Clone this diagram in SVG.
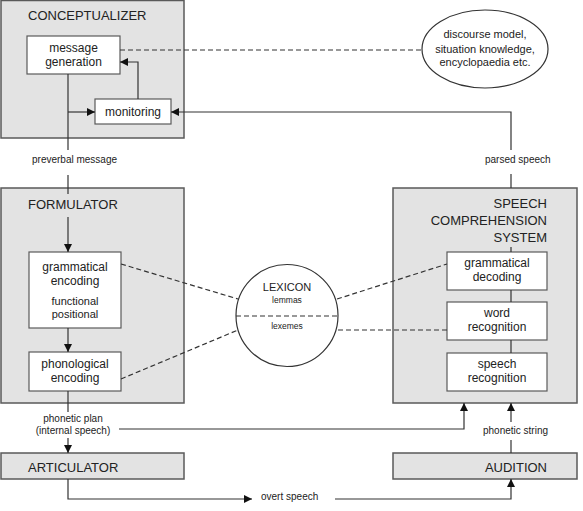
<svg xmlns="http://www.w3.org/2000/svg" width="583" height="511" viewBox="0 0 583 511">
<defs>
<style>
text{font-family:"Liberation Sans",Arial,sans-serif;fill:#222}
.sys{fill:#e3e3e3;stroke:#5a5a5a;stroke-width:1.5}
.box{fill:#fff;stroke:#5a5a5a;stroke-width:1.2}
.title{font-size:13px}
.t{font-size:12px;text-anchor:middle}
.s{font-size:10px}
.sm{font-size:11px;text-anchor:middle}
.ln{fill:none;stroke:#333;stroke-width:1.2}
.ar{fill:none;stroke:#333;stroke-width:1.2;marker-end:url(#ah)}
.ds{fill:none;stroke:#333;stroke-width:1.2;stroke-dasharray:5 3}
</style>
<marker id="ah" viewBox="0 0 10 10" refX="10" refY="5" markerWidth="8" markerHeight="8" markerUnits="userSpaceOnUse" orient="auto">
<path d="M0,0 L10,5 L0,10 z" fill="#111"/>
</marker>
</defs>

<g id="conceptualizer">
<rect class="sys" x="1" y="0.5" width="183" height="137.5"/>
<text class="title" x="28" y="20">CONCEPTUALIZER</text>
</g>
<g id="message-generation">
<rect class="box" x="27" y="36" width="93" height="38"/>
<text class="t" x="73.5" y="52">message</text>
<text class="t" x="73.5" y="66">generation</text>
</g>
<g id="monitoring">
<rect class="box" x="95" y="99" width="76" height="25"/>
<text class="t" x="133" y="116">monitoring</text>
</g>
<g id="knowledge">
<ellipse cx="485" cy="49" rx="63" ry="39" fill="#fff" stroke="#333" stroke-width="1.2"/>
<text class="sm" x="485" y="38">discourse model,</text>
<text class="sm" x="485" y="53">situation knowledge,</text>
<text class="sm" x="485" y="66">encyclopaedia etc.</text>
</g>

<g id="formulator">
<rect class="sys" x="1" y="188" width="183" height="215"/>
<text class="title" x="28" y="209">FORMULATOR</text>
</g>
<g id="grammatical-encoding">
<rect class="box" x="29" y="252" width="92" height="76"/>
<text class="t" x="75" y="271">grammatical</text>
<text class="t" x="75" y="285">encoding</text>
<text class="sm" x="75" y="305">functional</text>
<text class="sm" x="75" y="318">positional</text>
</g>
<g id="phonological-encoding">
<rect class="box" x="29" y="352" width="92" height="39"/>
<text class="t" x="75" y="368">phonological</text>
<text class="t" x="75" y="382">encoding</text>
</g>

<g id="lexicon">
<circle cx="287" cy="315.5" r="51" fill="#fff" stroke="#333" stroke-width="1.2"/>
<text class="sm" x="287" y="291">LEXICON</text>
<text x="287" y="303" style="font-size:8.5px;text-anchor:middle">lemmas</text>
<text x="287" y="329" style="font-size:8.5px;text-anchor:middle">lexemes</text>
<line class="ds" x1="236" y1="316" x2="338" y2="316"/>
</g>

<g id="speech-comprehension">
<rect class="sys" x="393" y="188" width="184" height="215"/>
<text class="title" x="547" y="208" text-anchor="end">SPEECH</text>
<text class="title" x="547" y="225" text-anchor="end">COMPREHENSION</text>
<text class="title" x="547" y="242" text-anchor="end">SYSTEM</text>
</g>
<g id="grammatical-decoding">
<rect class="box" x="447" y="252" width="100" height="38"/>
<text class="t" x="497" y="267">grammatical</text>
<text class="t" x="497" y="281">decoding</text>
</g>
<g id="word-recognition">
<rect class="box" x="447" y="302" width="100" height="38"/>
<text class="t" x="497" y="317">word</text>
<text class="t" x="497" y="331">recognition</text>
</g>
<g id="speech-recognition">
<rect class="box" x="447" y="353" width="100" height="38"/>
<text class="t" x="497" y="368">speech</text>
<text class="t" x="497" y="382">recognition</text>
</g>

<g id="articulator">
<rect class="sys" x="1" y="453" width="183" height="26"/>
<text class="title" x="28" y="472">ARTICULATOR</text>
</g>
<g id="audition">
<rect class="sys" x="393" y="453" width="184" height="26"/>
<text class="title" x="547" y="472" text-anchor="end">AUDITION</text>
</g>

<g id="connectors">
<path class="ln" d="M68,74 V150"/>
<path class="ar" d="M68,112 H95"/>
<path class="ar" d="M138,99 V62 H120"/>
<path class="ar" d="M511,150 V112 H171"/>
<path class="ds" d="M120,50 H422"/>
<text class="s" x="32" y="163">preverbal message</text>
<path class="ln" d="M68,175 V194"/>
<path class="ar" d="M68,217 V252"/>
<text class="s" x="485" y="163">parsed speech</text>
<path class="ln" d="M511,174 V188"/>
<path class="ln" d="M511,247 V252"/>
<path class="ln" d="M511,290 V302"/>
<path class="ln" d="M511,340 V353"/>
<path class="ar" d="M68,328 V352"/>
<path class="ds" d="M121,264 L238,299"/>
<path class="ds" d="M121,379 L238,330"/>
<path class="ds" d="M337,299 L447,264"/>
<path class="ds" d="M338,330 H447"/>
<path class="ln" d="M68,391 V412"/>
<text class="s" x="73" y="422" text-anchor="middle">phonetic plan</text>
<text class="s" x="73" y="434" text-anchor="middle">(internal speech)</text>
<path class="ar" d="M68,438 V453"/>
<path class="ar" d="M119,429 H464 V403"/>
<path class="ar" d="M511,422 V403"/>
<text class="s" x="483" y="434">phonetic string</text>
<path class="ln" d="M511,440 V453"/>
<path class="ar" d="M68,479 V499 H252"/>
<text class="s" x="261" y="500">overt speech</text>
<path class="ar" d="M335,499 H511 V479"/>
</g>
</svg>
